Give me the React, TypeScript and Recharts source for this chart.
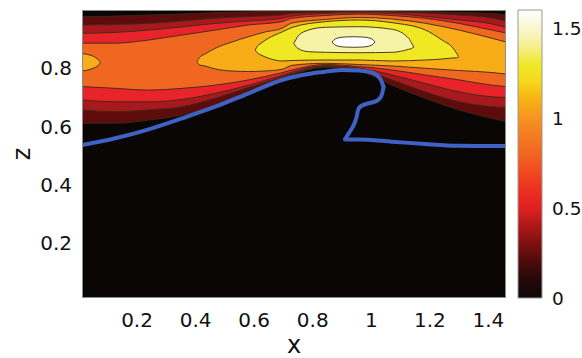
import React from 'react';
import { ComposedChart, Area, Line, XAxis, YAxis, CartesianGrid, BarChart, Bar } from 'recharts';

// axis ticks
const xTicks = [0.2, 0.4, 0.6, 0.8, 1, 1.2, 1.4];
const zTicks = [0.2, 0.4, 0.6, 0.8];
const cbTicks = [0, 0.5, 1, 1.5];
const cbMax = 1.6;
const xDomain = [0.012, 1.46];
const zDomain = [0.011, 1.0];

// common x positions for the wide contour bands
const gridX = [0.012, 0.126, 0.24, 0.354, 0.467, 0.581, 0.695, 0.729, 0.843, 0.957, 1.013, 1.071, 1.184, 1.299, 1.412, 1.46];

// level 0.2 (lower and upper boundary, z)
const lvl02Lo = [0.611, 0.611, 0.622, 0.639, 0.674, 0.722, 0.766, 0.777, 0.8025, 0.7905, 0.770, 0.742, 0.697, 0.657, 0.628, 0.617];
const lvl02Hi = [0.977, 0.979, 0.983, 0.986, 0.991, 0.993, 0.9966, 0.9955, 0.9976, 0.9989, 0.9982, 0.9976, 0.9948, 0.9914, 0.988, 0.983];
// level 0.4
const lvl04Lo = [0.657, 0.651, 0.657, 0.668, 0.697, 0.734, 0.770, 0.781, 0.806, 0.796, 0.780, 0.760, 0.719, 0.685, 0.668, 0.665];
const lvl04Hi = [0.9485, 0.950, 0.954, 0.962, 0.9715, 0.9777, 0.9828, 0.9887, 0.9914, 0.9955, 0.9948, 0.9931, 0.9897, 0.9828, 0.9725, 0.962];
// level 0.6
const lvl06Lo = [0.691, 0.685, 0.685, 0.693, 0.714, 0.742, 0.776, 0.787, 0.809, 0.801, 0.7905, 0.777, 0.748, 0.719, 0.702, 0.6995];
const lvl06Hi = [0.920, 0.923, 0.931, 0.942, 0.954, 0.962, 0.9715, 0.979, 0.988, 0.9907, 0.990, 0.988, 0.978, 0.966, 0.952, 0.940];
// level 0.8
const lvl08Lo = [0.737, 0.731, 0.725, 0.731, 0.742, 0.760, 0.785, 0.794, 0.813, 0.806, 0.801, 0.794, 0.777, 0.760, 0.742, 0.737];
const lvl08Hi = [0.886, 0.886, 0.897, 0.914, 0.931, 0.9485, 0.960, 0.9715, 0.981, 0.986, 0.9845, 0.981, 0.9715, 0.954, 0.931, 0.921];

// level 1.0, small blob at the left edge
const lvl10aX = [0.012, 0.0324, 0.0529, 0.0666, 0.0751];
const lvl10aLo = [0.7905, 0.794, 0.801, 0.809, 0.8197];
const lvl10aHi = [0.8506, 0.847, 0.840, 0.830, 0.8197];
// level 1.0, main blob
const lvl10bX = [0.4047, 0.4133, 0.432, 0.4672, 0.5242, 0.5813, 0.637, 0.695, 0.7292, 0.8429, 0.957, 1.071, 1.1844, 1.2985, 1.4122, 1.46];
const lvl10bLo = [0.8224, 0.8111, 0.8077, 0.7973, 0.7905, 0.7888, 0.7905, 0.7963, 0.8101, 0.8169, 0.8128, 0.8077, 0.7998, 0.7922, 0.7853, 0.7802];
const lvl10bHi = [0.8224, 0.8368, 0.8489, 0.8685, 0.8901, 0.9083, 0.9244, 0.9371, 0.9553, 0.9673, 0.9742, 0.9691, 0.9543, 0.9313, 0.9028, 0.8901];

// level 1.2
const lvl12X = [0.6038, 0.6113, 0.6199, 0.6472, 0.695, 0.7292, 0.8429, 0.957, 1.071, 1.1844, 1.2415, 1.2757, 1.291, 1.2985];
const lvl12Lo = [0.8626, 0.8523, 0.8472, 0.8351, 0.8249, 0.8266, 0.8283, 0.8283, 0.8249, 0.8283, 0.8317, 0.8351, 0.8358, 0.8396];
const lvl12Hi = [0.8626, 0.8763, 0.8832, 0.9021, 0.9244, 0.9399, 0.9598, 0.9656, 0.9564, 0.9313, 0.897, 0.8729, 0.8523, 0.8396];

// level 1.4
const lvl14X = [0.735, 0.7428, 0.7497, 0.7862, 0.8429, 0.957, 1.071, 1.1277, 1.1373, 1.1458];
const lvl14Lo = [0.8856, 0.8746, 0.8678, 0.8568, 0.8547, 0.8533, 0.8547, 0.865, 0.8678, 0.8729];
const lvl14Hi = [0.8856, 0.8987, 0.9107, 0.9313, 0.9406, 0.9426, 0.9337, 0.9028, 0.8867, 0.8729];

// level 1.55
const lvl16X = [0.8658, 0.8795, 0.9068, 0.9392, 0.9717, 0.999, 1.0127];
const lvl16Lo = [0.8901, 0.8781, 0.8729, 0.8719, 0.8729, 0.8781, 0.8901];
const lvl16Hi = [0.8901, 0.9021, 0.9072, 0.9083, 0.9072, 0.9021, 0.8901];

// blue interface curve, in three pieces
// rising part up to the crest and its right bulge
const blueAX = [0.012, 0.1257, 0.2398, 0.3535, 0.4672, 0.5813, 0.695, 0.7565, 0.8248, 0.8999, 0.957, 1.0024, 1.0297, 1.0417];
const blueAZ = [0.5364, 0.5594, 0.5903, 0.628, 0.6679, 0.7139, 0.7596, 0.7751, 0.786, 0.7939, 0.7922, 0.7847, 0.7654, 0.7366];
// overhang going back down
const blueBX = [1.0417, 1.0331, 1.0127, 0.9819, 0.958, 0.9512, 0.9443, 0.9341, 0.917, 0.9102];
const blueBZ = [0.7366, 0.7022, 0.6851, 0.6772, 0.6634, 0.6394, 0.6154, 0.5937, 0.5673, 0.556];
// flat tail to the right edge
const blueCX = [0.9102, 0.9273, 0.957, 1.071, 1.1844, 1.2985, 1.4122, 1.46];
const blueCZ = [0.556, 0.5553, 0.5553, 0.5477, 0.5398, 0.534, 0.5329, 0.5329];

// colour bar stops (value, colour)
const cbStopVals = [0, 0.1, 0.2, 0.3, 0.4, 0.5, 0.6, 0.7, 0.8, 0.9, 1.0, 1.1, 1.2, 1.3, 1.4, 1.5, 1.6];
const cbStopCols = ['#0d0808', '#240808', '#4e0b0b', '#7c1010', '#ad1818', '#e02020', '#ec3121', '#f04a20', '#f26522', '#f47c20', '#f69420', '#f8b014', '#f6d81c', '#f0e82a', '#f6f090', '#faf6d0', '#ffffff'];

const band = (xs: number[], lo: number[], hi: number[]) => xs.map((x, i) => ({ x, r: [lo[i], hi[i]] }));
const pts = (xs: number[], zs: number[]) => xs.map((x, i) => ({ x, z: zs[i] }));

const bands = [
  { key: 'l02', color: '#5e0b0c', data: band(gridX, lvl02Lo, lvl02Hi) },
  { key: 'l04', color: '#a8191e', data: band(gridX, lvl04Lo, lvl04Hi) },
  { key: 'l06', color: '#e8232a', data: band(gridX, lvl06Lo, lvl06Hi) },
  { key: 'l08', color: '#f06722', data: band(gridX, lvl08Lo, lvl08Hi) },
  { key: 'l10a', color: '#f7ac18', data: band(lvl10aX, lvl10aLo, lvl10aHi) },
  { key: 'l10b', color: '#f7ac18', data: band(lvl10bX, lvl10bLo, lvl10bHi) },
  { key: 'l12', color: '#efe823', data: band(lvl12X, lvl12Lo, lvl12Hi) },
  { key: 'l14', color: '#f7f3a6', data: band(lvl14X, lvl14Lo, lvl14Hi) },
  { key: 'l16', color: '#ffffff', data: band(lvl16X, lvl16Lo, lvl16Hi) },
];

const blueParts = [
  { key: 'bA', type: 'monotone', data: pts(blueAX, blueAZ) },
  { key: 'bB', type: 'natural', data: pts(blueBX, blueBZ) },
  { key: 'bC', type: 'monotone', data: pts(blueCX, blueCZ) },
];
const cbData = [{ name: 'cb', v: cbMax }];

const FONT = 'DejaVu Sans, sans-serif';
const tickStyle = { fontSize: 20, fill: '#111', fontFamily: FONT };
const cbTickStyle = { fontSize: 18.5, fill: '#111', fontFamily: FONT };

export default function App() {
  return (
    <div style={{ position: 'absolute', left: 0, top: 0, width: 582, height: 358, background: '#fff', fontFamily: FONT }}>
      <ComposedChart width={582} height={358} margin={{ top: 10, right: 76, left: 0, bottom: 0 }}>
        <CartesianGrid fill="#0a0606" stroke="none" horizontal={false} vertical={false} />
        <XAxis
          type="number"
          dataKey="x"
          domain={xDomain}
          allowDataOverflow
          ticks={xTicks}
          height={60}
          tickLine={false}
          tickSize={6}
          tickMargin={9}
          axisLine={false}
          tick={tickStyle}
          label={{ value: 'x', position: 'insideBottom', offset: 5, style: { fontSize: 24, fill: '#111', fontFamily: FONT } }}
        />
        <YAxis
          type="number"
          domain={zDomain}
          allowDataOverflow
          ticks={zTicks}
          width={82}
          tickLine={false}
          tickSize={6}
          tickMargin={4}
          axisLine={false}
          tick={tickStyle}
          label={{ value: 'z', angle: -90, position: 'insideLeft', offset: 21, style: { fontSize: 24, fill: '#111', fontFamily: FONT, textAnchor: 'middle' } }}
        />
        {bands.map((b) => (
          <Area
            key={b.key}
            data={b.data}
            dataKey="r"
            type="monotone"
            fill={b.color}
            fillOpacity={1}
            stroke="#3a2a16"
            strokeWidth={0.9}
            dot={false}
            activeDot={false}
            isAnimationActive={false}
          />
        ))}
        {blueParts.map((p) => (
          <Line
            key={p.key}
            data={p.data}
            dataKey="z"
            type={p.type as any}
            stroke="#4062c4"
            strokeWidth={4}
            strokeLinecap="round"
            strokeLinejoin="round"
            dot={false}
            activeDot={false}
            isAnimationActive={false}
          />
        ))}
      </ComposedChart>
      <div style={{ position: 'absolute', left: 82, top: 10, width: 424, height: 288, boxSizing: 'border-box', border: '1px solid #8c8c8c', pointerEvents: 'none' }} />
      <div style={{ position: 'absolute', left: 0, top: 0 }}>
        <BarChart width={582} height={358} data={cbData} margin={{ top: 10, right: 0, left: 518, bottom: 60 }} barCategoryGap={0}>
          <defs>
            <linearGradient id="cbgrad" x1="0" y1="1" x2="0" y2="0">
              {cbStopVals.map((v, i) => (
                <stop key={i} offset={v / cbMax} stopColor={cbStopCols[i]} />
              ))}
            </linearGradient>
          </defs>
          <XAxis dataKey="name" hide />
          <YAxis
            orientation="right"
            type="number"
            domain={[0, cbMax]}
            ticks={cbTicks}
            width={40}
            tickLine={false}
            axisLine={false}
            tickSize={6}
            tickMargin={4}
            tick={cbTickStyle}
          />
          <Bar dataKey="v" fill="url(#cbgrad)" stroke="#9a9a9a" strokeWidth={1} isAnimationActive={false} />
        </BarChart>
      </div>
    </div>
  );
}
